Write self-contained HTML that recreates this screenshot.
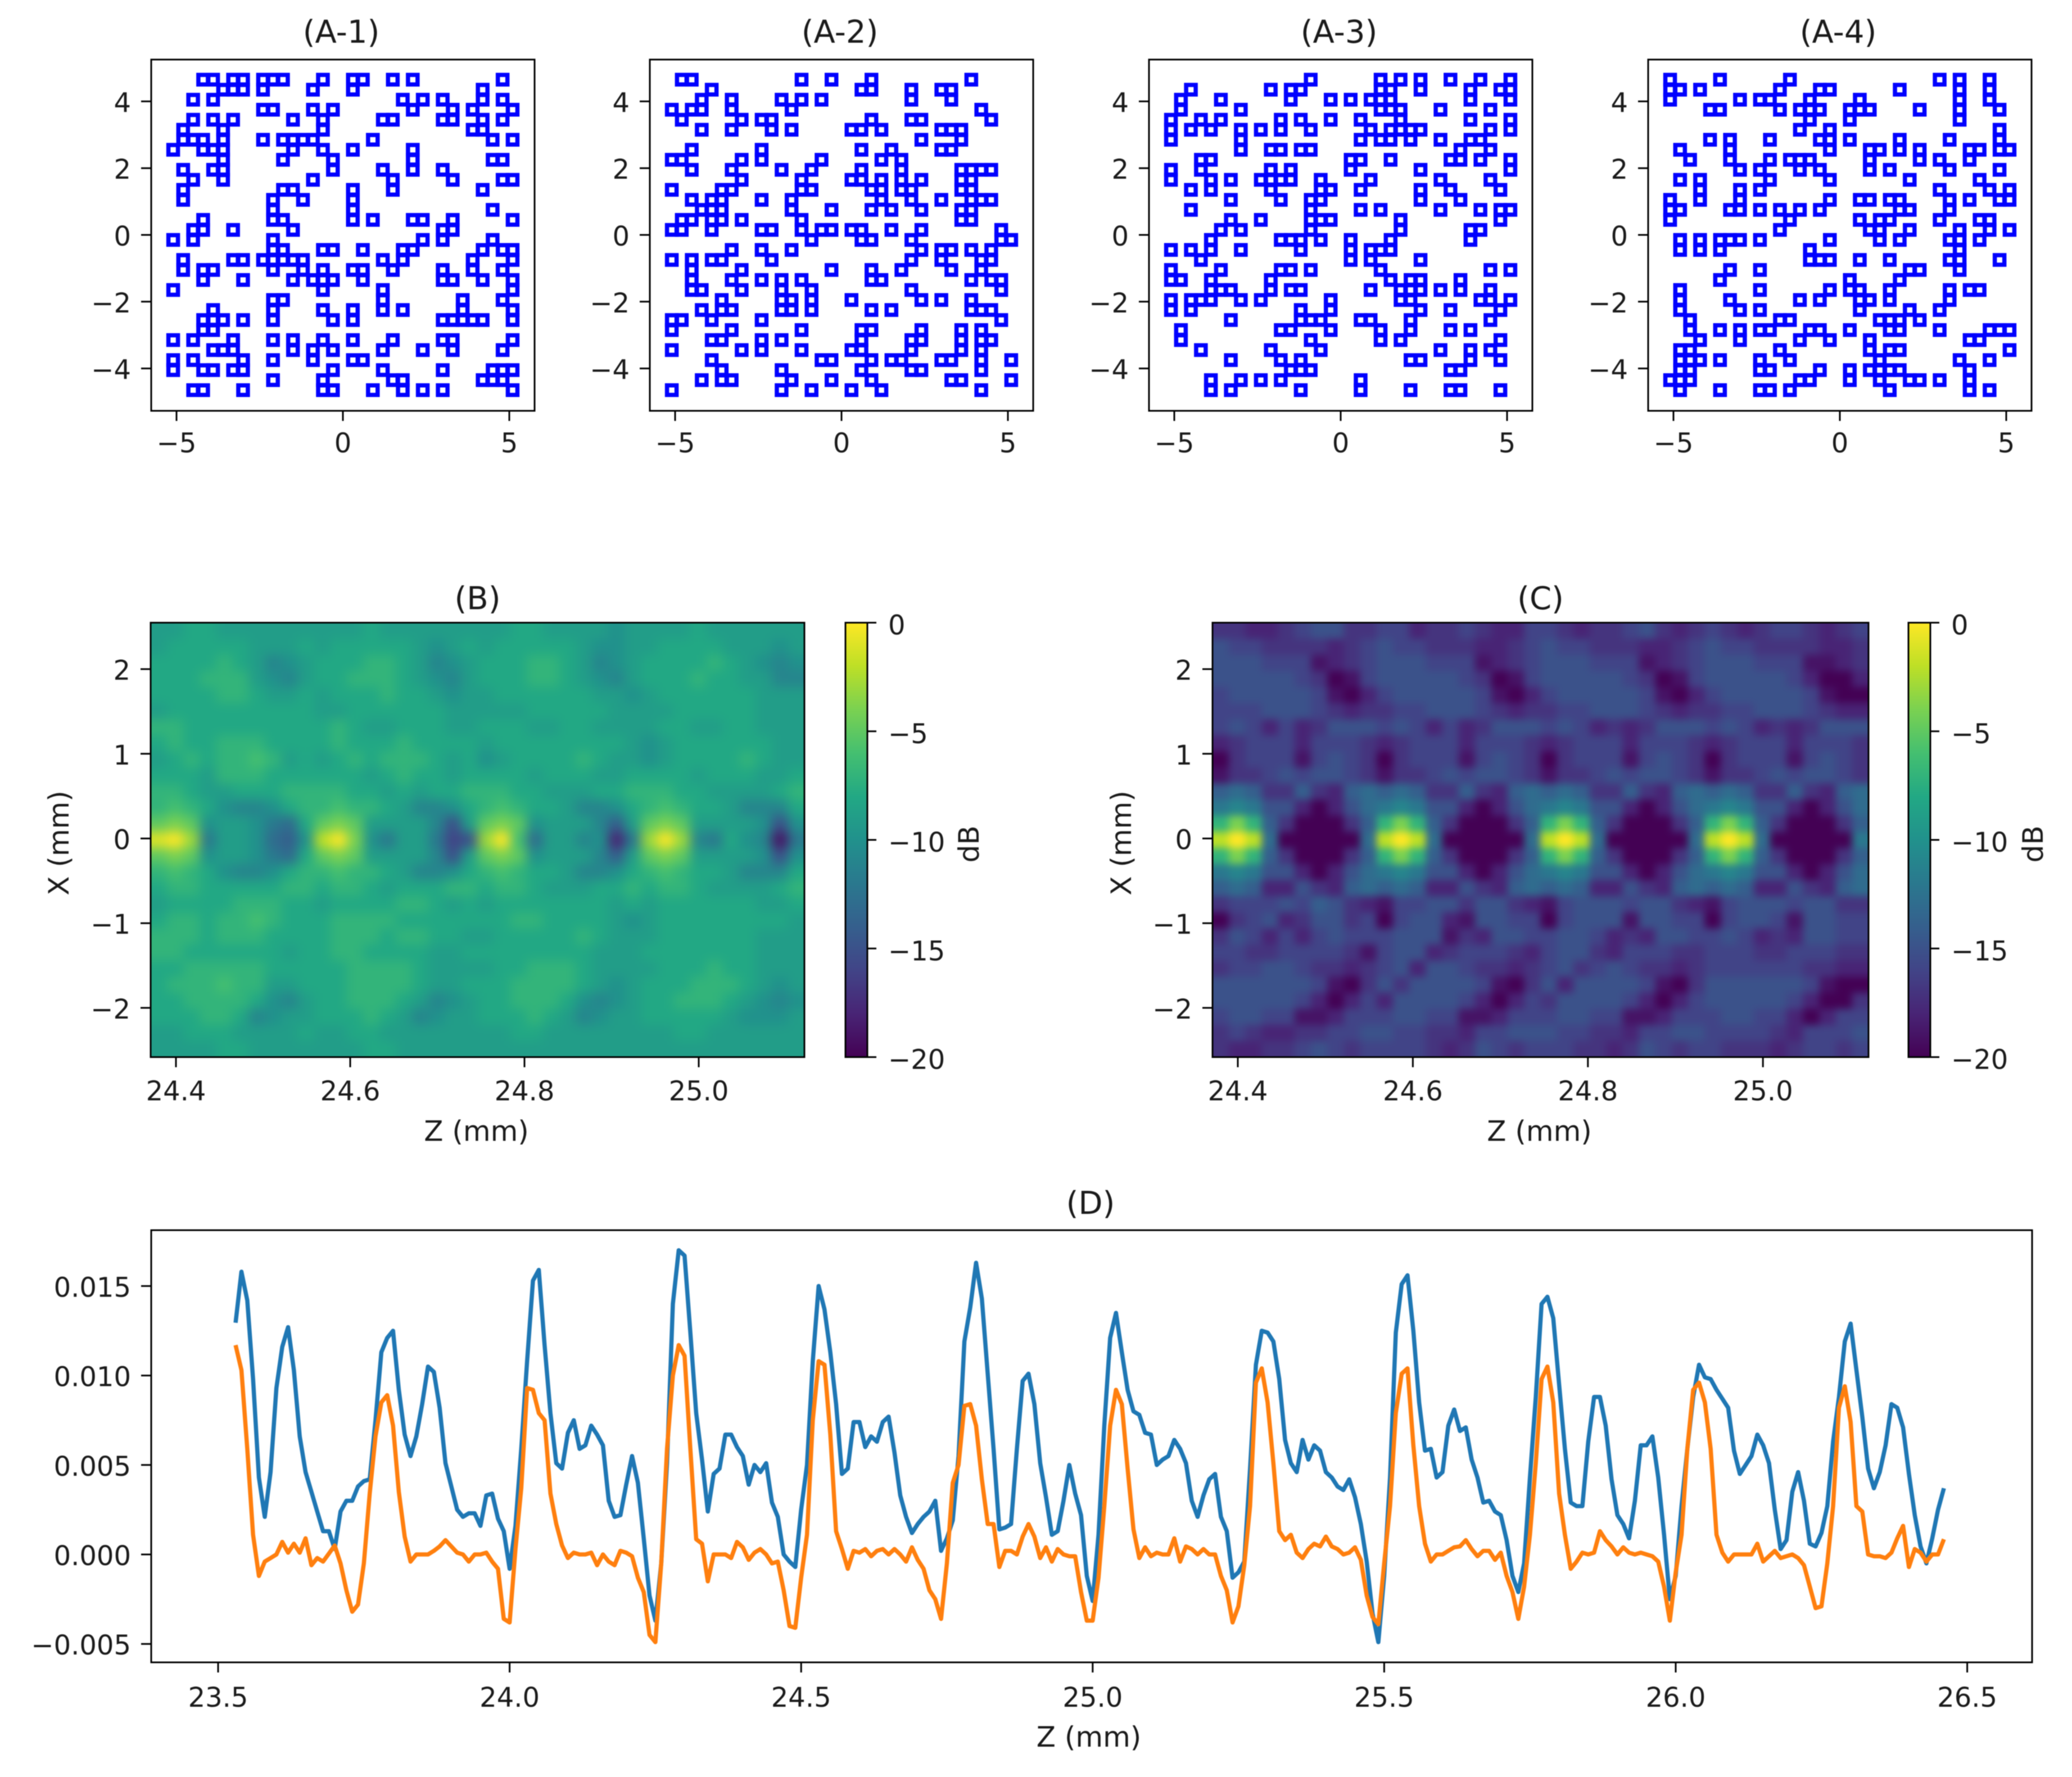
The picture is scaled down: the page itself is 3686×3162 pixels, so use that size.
<!DOCTYPE html>
<html lang="en">
<head>
<meta charset="utf-8">
<title>Array layouts and beam pattern chart</title>
<style>
html,body{margin:0;padding:0;background:#fff}
svg{display:block;filter:blur(0.9px)}
text{font-family:"DejaVu Sans","Liberation Sans",sans-serif;fill:#1a1a1a}
</style>
</head>
<body>
<svg id="figure" xmlns="http://www.w3.org/2000/svg" width="3686" height="3162" viewBox="0 0 3686 3162">
<defs>
<filter id="soft-b" x="-5%" y="-5%" width="110%" height="110%" color-interpolation-filters="sRGB"><feGaussianBlur stdDeviation="10"/></filter>
<filter id="soft-c" x="-5%" y="-5%" width="110%" height="110%" color-interpolation-filters="sRGB"><feGaussianBlur stdDeviation="7"/></filter>
<clipPath id="clip-b"><rect x="268" y="1108" width="1163" height="773"/></clipPath>
<clipPath id="clip-c"><rect x="2157" y="1108" width="1167" height="773"/></clipPath>
<linearGradient id="viridis-gradient" x1="0" y1="1" x2="0" y2="0">
<stop offset="0" stop-color="#440154"/><stop offset=".1" stop-color="#482475"/><stop offset=".2" stop-color="#414487"/><stop offset=".3" stop-color="#355f8d"/><stop offset=".4" stop-color="#2a788e"/><stop offset=".5" stop-color="#21918c"/><stop offset=".6" stop-color="#22a884"/><stop offset=".7" stop-color="#44bf70"/><stop offset=".8" stop-color="#7ad151"/><stop offset=".9" stop-color="#bddf26"/><stop offset="1" stop-color="#fde725"/>
</linearGradient>
</defs>
</svg>
<script>
// Element positions for the four array layouts: per row (top to bottom), the occupied column indices.
const arrayTitles = ['(A-1)','(A-2)','(A-3)','(A-4)'];
const arrayTicksX = [-5,0,5];
const arrayTicksY = [4,2,0,-2,-4];
const arrayTickLabelsX = ['\u22125','0','5'];
const arrayTickLabelsY = ['4','2','0','\u22122','\u22124'];
const arrayA1 = [
[3,4,6,7,9,10,11,15,18,19,22,24,33],[5,6,7,9,14,18,31],[2,4,23,25,27,31,33],[9,10,14,16,24,28,30,34],
[2,4,6,12,15,21,22,27,28,31,33],[1,5,15,30,31],[1,2,3,5,9,11,12,13,14,20,32,34],[0,3,4,5,12,15,18,24],
[5,11,16,24,32,33],[1,4,5,16,21,24,27],[2,5,14,22,28,33,34],[1,11,12,18,22,31],
[1,10,13,18],[10,18,32],[3,10,11,18,20,24,25,28,34],[2,3,6,12,27,28],
[0,2,10,25,27,32],[10,11,15,16,19,23,24,31,33,34],[1,6,7,9,10,11,12,13,21,23,30,34],[1,3,4,10,13,15,18,19,22,27,30,33],
[3,7,12,14,15,16,19,27,28,31,34],[0,15,21,34],[10,11,21,29,33],[4,10,15,18,21,23,29,34],
[3,4,5,7,10,16,18,27,28,29,30,31,34],[3,4],[0,2,6,10,12,15,18,22,27,28,34],[4,5,6,12,14,16,21,25,28,33],
[0,2,7,10,14,18,19],[0,3,4,6,7,16,21,27,32,33,34],[10,15,22,23,31,32,33],[2,3,7,15,16,20,23,25,27,34]];
const arrayA2 = [
[1,2,13,16,20,30],[4,19,20,24,27,28],[3,6,11,13,15,24,28],[0,2,3,6,12,31],
[1,7,9,10,20,24,25,32],[3,6,10,12,18,19,21,27,28,29],[25,29],[2,9,19,22,27,28],
[0,1,7,9,15,21,23],[2,6,11,14,19,23,29,30,31,32],[7,13,18,19,21,23,25,29,30],[0,5,6,13,14,20,21,23,24,29,30],
[2,4,5,9,12,21,24,27,30,31,32],[3,4,5,12,16,20,22,25,29,30],[1,2,4,5,7,13,29,30],[0,1,4,9,10,13,15,16,18,19,22,25,33],
[14,19,20,24,33,34],[6,9,12,25,27,28,30,32],[0,2,4,5,10,24,27,31,32],[2,7,16,20,23,28,31],
[2,6,9,11,13,20,21,30,32,33],[2,3,7,11,14,24,33],[5,11,12,14,18,25,27,30],[3,5,6,11,12,14,20,22,30,31,32],
[0,1,4,9,33],[0,6,13,19,20,25,29,31],[4,5,9,11,19,24,25,29,31,32],[0,7,9,13,18,19,24,29,31],
[4,15,16,20,22,23,27,28,31,34],[5,11,19,24,25,31],[3,5,6,12,16,20,28,29,34],[0,11,14,18,21,31]];
const arrayA3 = [
[14,21,23,25,28,31,34],[2,10,12,13,21,22,25,30,33,34],[1,5,12,16,18,20,21,22,30,34],[1,7,21,22,23,27,32],
[0,3,5,11,13,16,19,23,30,34],[0,2,4,7,9,11,14,20,22,23,24,25,32,34],[0,7,19,21,22,24,27,30,31],[7,10,11,13,14,29,32],
[3,4,18,19,22,28,29,31,34],[0,3,10,12,18,25,34],[0,4,6,9,10,11,12,15,20,27,32],[2,4,10,15,16,19,25,28,33],
[6,11,14,15,25,29],[2,14,19,21,27,31,33,34],[6,9,14,15,16,23,33],[5,7,14,23,30,31],
[4,11,12,13,15,18,22,30],[0,2,4,7,13,18,20,21,22],[3,18,20,25],[0,5,11,12,14,21,32,34],
[0,1,4,10,22,24,25,29],[4,5,6,10,12,13,20,23,24,25,27,29,32],[0,2,3,4,7,9,16,23,24,31,32,34],[0,2,13,16,25,28,33],
[6,13,14,15,19,20,24,32],[1,11,12,16,21,24,28,30],[1,14,21,23,33],[3,10,15,27,30,32],
[6,11,13,24,25,30,33],[12,13,14,28,29],[4,7,9,11,19],[4,6,13,19,24,28,29,33]];
const arrayA4 = [
[0,5,12,27,29,32],[0,1,3,11,15,16,23,29,32],[0,7,9,10,14,19,29,32],[4,5,11,13,14,15,18,19,20,25,29,33],
[14,18,29],[13,16,33],[4,6,10,15,16,18,23,28,33],[1,6,16,20,21,23,25,30,31,33,34],
[2,6,10,12,13,14,20,25,27,30],[7,9,13,15,20,22,28,33],[1,3,10,16,24,31],[3,7,9,27,32,34],
[0,3,7,16,19,20,22,23,28,30,33,34],[0,1,6,7,9,11,13,15,23,24,28],[0,12,19,21,22,27,31,32],[11,20,21,24,29,32,34],
[1,3,5,6,7,9,16,21,23,28,29,31],[1,3,5,14,29],[14,15,16,19,22,28,29,33],[6,9,24,25,29],
[5,18,23],[1,9,16,18,19,22,28,30,31],[1,6,13,15,19,20,22,28],[1,7,9,19,24,27],
[2,11,12,21,22,23,25],[2,5,7,9,10,14,15,18,22,23,27,32,33,34],[3,7,13,16,20,30,31],[1,2,11,20,22,23,34],
[1,2,3,5,9,12,21,29,32],[1,2,9,10,15,18,20,21,22,23,30],[0,1,2,13,14,18,21,24,25,27,30],[1,5,9,10,12,22,30,32]];

// Heatmap dB values; each row (top to bottom) has 40 cells (left to right).
const heatTicksZ = [24.4,24.6,24.8,25.0];
const heatTickLabelsZ = ['24.4','24.6','24.8','25.0'];
const heatTicksX = [2,1,0,-1,-2];
const heatTickLabelsX = ['2','1','0','\u22121','\u22122'];
const colorbarTicks = [0,-5,-10,-15,-20];
const colorbarLabels = ['0','\u22125','\u221210','\u221215','\u221220'];
const heatB = [
[-9,-9,-8,-8,-9,-9,-9,-9,-9,-9,-9,-9,-9,-8,-9,-9,-9,-9,-9,-9,-9,-9,-8,-8,-9,-9,-9,-9,-10,-9,-9,-9,-9,-8,-9,-9,-9,-9,-9,-9],
[-9,-8,-8,-8,-8,-8,-9,-9,-9,-8,-9,-8,-8,-8,-8,-8,-9,-10,-9,-8,-9,-8,-8,-8,-8,-8,-9,-10,-10,-9,-9,-8,-8,-8,-8,-9,-9,-9,-10,-9],
[-8,-8,-8,-8,-7,-8,-9,-11,-10,-9,-8,-8,-8,-7,-7,-8,-9,-11,-10,-9,-8,-8,-8,-7,-7,-8,-9,-11,-10,-9,-8,-8,-8,-8,-7,-8,-9,-10,-11,-10],
[-8,-8,-8,-7,-7,-7,-9,-10,-11,-9,-8,-8,-7,-7,-7,-8,-9,-10,-11,-9,-8,-8,-8,-7,-7,-8,-9,-10,-11,-9,-8,-8,-8,-7,-8,-8,-9,-9,-11,-11],
[-8,-8,-8,-8,-7,-7,-8,-9,-9,-8,-9,-8,-8,-8,-7,-8,-8,-9,-10,-9,-9,-8,-8,-8,-8,-8,-8,-9,-9,-10,-9,-8,-8,-8,-8,-8,-8,-9,-9,-9],
[-9,-8,-8,-8,-8,-8,-8,-8,-8,-8,-9,-9,-8,-8,-8,-8,-8,-8,-9,-9,-9,-9,-9,-8,-8,-8,-8,-8,-9,-9,-9,-9,-8,-8,-8,-8,-8,-9,-9,-9],
[-7,-7,-8,-8,-8,-8,-8,-8,-8,-8,-8,-7,-8,-9,-9,-8,-8,-8,-9,-9,-8,-8,-8,-9,-9,-8,-8,-9,-9,-9,-9,-8,-8,-9,-9,-8,-8,-9,-9,-9],
[-8,-7,-8,-8,-7,-7,-7,-8,-8,-8,-8,-7,-8,-8,-8,-7,-8,-8,-8,-8,-9,-8,-8,-8,-8,-8,-8,-8,-8,-9,-10,-9,-8,-8,-8,-8,-8,-8,-9,-9],
[-9,-8,-7,-8,-7,-7,-6,-7,-9,-8,-9,-8,-7,-8,-7,-7,-7,-8,-9,-8,-10,-9,-8,-8,-8,-8,-7,-8,-9,-9,-10,-9,-8,-8,-8,-8,-7,-8,-9,-9],
[-8,-8,-8,-9,-7,-7,-7,-8,-8,-8,-8,-8,-8,-9,-8,-7,-8,-8,-9,-8,-8,-8,-8,-9,-8,-8,-8,-9,-9,-8,-8,-8,-8,-9,-8,-8,-8,-9,-9,-8],
[-7,-7,-8,-9,-9,-8,-8,-8,-7,-7,-7,-7,-8,-8,-9,-8,-9,-8,-8,-7,-7,-7,-8,-8,-9,-9,-9,-8,-8,-7,-7,-7,-8,-8,-9,-9,-9,-9,-8,-7],
[-7,-6,-7,-8,-10,-11,-11,-10,-8,-7,-7,-6,-7,-7,-8,-9,-11,-11,-10,-8,-7,-6,-7,-8,-8,-9,-11,-11,-10,-8,-7,-6,-7,-8,-8,-9,-11,-11,-11,-8],
[-5,-4,-5,-10,-9,-9,-10,-12,-13,-8,-5,-4,-5,-9,-9,-9,-9,-11,-15,-9,-5,-4,-5,-10,-9,-9,-9,-11,-14,-9,-5,-4,-5,-9,-9,-9,-9,-10,-15,-10],
[-1,0,-3,-12,-9,-9,-10,-13,-14,-10,-2,0,-4,-10,-12,-9,-9,-12,-16,-15,-3,0,-6,-13,-9,-9,-11,-10,-18,-12,-3,0,-3,-11,-12,-8,-10,-11,-19,-12],
[-5,-4,-5,-10,-9,-9,-10,-12,-13,-8,-5,-4,-5,-9,-9,-9,-9,-11,-15,-9,-5,-4,-5,-10,-9,-9,-9,-11,-14,-9,-5,-4,-5,-9,-9,-9,-9,-10,-15,-10],
[-7,-6,-7,-8,-10,-11,-11,-10,-8,-7,-7,-6,-7,-7,-8,-9,-11,-11,-10,-8,-7,-6,-7,-8,-8,-9,-11,-11,-10,-8,-7,-6,-7,-8,-8,-9,-11,-11,-11,-8],
[-8,-7,-7,-8,-8,-8,-8,-8,-7,-7,-8,-7,-7,-8,-9,-8,-8,-8,-7,-7,-8,-7,-7,-8,-9,-9,-9,-8,-8,-7,-8,-7,-7,-8,-9,-9,-9,-9,-8,-7],
[-9,-8,-8,-8,-8,-7,-7,-7,-8,-8,-9,-8,-8,-8,-8,-7,-7,-8,-9,-8,-9,-8,-8,-8,-8,-8,-8,-8,-9,-8,-9,-8,-8,-8,-8,-8,-8,-9,-9,-8],
[-8,-7,-7,-8,-7,-7,-6,-7,-8,-8,-8,-7,-7,-7,-7,-8,-8,-8,-8,-8,-8,-8,-7,-7,-8,-8,-8,-8,-9,-10,-9,-8,-8,-8,-8,-8,-8,-8,-8,-9],
[-7,-7,-7,-8,-7,-7,-7,-8,-8,-8,-8,-7,-7,-7,-8,-7,-7,-8,-8,-9,-9,-8,-8,-8,-8,-8,-7,-8,-9,-9,-9,-8,-8,-8,-8,-8,-8,-9,-9,-9],
[-7,-7,-8,-8,-8,-8,-8,-8,-9,-8,-8,-7,-7,-8,-8,-8,-8,-9,-9,-8,-8,-8,-8,-8,-8,-8,-8,-9,-9,-9,-8,-8,-8,-8,-8,-8,-8,-9,-9,-9],
[-8,-8,-7,-7,-7,-7,-7,-8,-8,-8,-8,-8,-7,-7,-7,-7,-8,-9,-9,-9,-9,-8,-8,-7,-7,-7,-8,-9,-9,-9,-9,-8,-8,-8,-7,-8,-8,-9,-9,-9],
[-8,-7,-7,-7,-6,-7,-7,-9,-9,-8,-8,-8,-7,-7,-7,-7,-8,-9,-9,-8,-8,-8,-7,-7,-7,-7,-8,-9,-10,-9,-8,-8,-8,-7,-7,-7,-8,-9,-10,-9],
[-8,-8,-7,-7,-7,-7,-8,-10,-11,-9,-8,-8,-7,-7,-7,-8,-9,-11,-10,-9,-8,-8,-7,-7,-7,-8,-10,-11,-10,-9,-8,-8,-7,-7,-7,-8,-9,-10,-11,-10],
[-8,-8,-8,-7,-7,-8,-11,-10,-9,-9,-8,-8,-8,-7,-8,-9,-11,-10,-9,-9,-8,-8,-8,-7,-8,-9,-11,-10,-9,-9,-8,-8,-8,-8,-8,-9,-10,-10,-10,-9],
[-9,-9,-8,-8,-8,-9,-9,-9,-9,-8,-9,-9,-8,-8,-9,-9,-9,-9,-9,-9,-9,-9,-8,-8,-9,-9,-9,-9,-9,-9,-9,-9,-8,-8,-9,-9,-9,-9,-9,-9],
[-9,-9,-9,-9,-8,-8,-9,-9,-9,-9,-9,-9,-9,-8,-8,-9,-9,-9,-9,-9,-9,-9,-9,-9,-9,-9,-9,-9,-9,-9,-9,-9,-9,-9,-9,-9,-9,-9,-9,-9]];
const heatC = [
[-17,-17,-18,-18,-17,-16,-15,-15,-17,-17,-16,-16,-18,-17,-17,-16,-17,-18,-18,-16,-16,-17,-18,-17,-17,-16,-15,-17,-18,-17,-16,-17,-18,-17,-16,-16,-17,-18,-17,-16],
[-15,-16,-16,-17,-17,-17,-17,-18,-17,-16,-15,-16,-16,-17,-17,-17,-18,-18,-17,-16,-15,-16,-16,-17,-17,-17,-18,-18,-17,-16,-15,-16,-16,-17,-17,-17,-17,-18,-18,-17],
[-15,-15,-15,-16,-16,-16,-19,-18,-17,-16,-15,-15,-15,-16,-16,-16,-19,-18,-17,-16,-15,-15,-15,-16,-16,-16,-19,-18,-17,-16,-15,-15,-15,-16,-16,-16,-19,-19,-18,-17],
[-15,-15,-15,-15,-15,-16,-17,-20,-19,-16,-15,-15,-15,-15,-15,-16,-17,-20,-19,-16,-15,-15,-15,-15,-15,-16,-17,-20,-19,-16,-15,-15,-15,-15,-15,-16,-18,-20,-20,-18],
[-16,-15,-15,-15,-15,-15,-16,-19,-20,-18,-16,-15,-15,-15,-15,-15,-16,-19,-20,-18,-16,-15,-15,-15,-15,-15,-16,-19,-20,-18,-16,-15,-15,-15,-15,-15,-16,-19,-20,-20],
[-16,-16,-16,-15,-15,-15,-16,-17,-18,-17,-17,-16,-16,-15,-15,-15,-16,-17,-18,-17,-17,-16,-16,-15,-15,-15,-16,-17,-18,-17,-17,-16,-16,-15,-15,-15,-16,-17,-18,-18],
[-16,-15,-16,-18,-16,-18,-17,-15,-15,-15,-16,-15,-16,-18,-16,-18,-17,-15,-15,-15,-16,-15,-16,-18,-17,-18,-17,-15,-15,-15,-16,-15,-16,-18,-17,-18,-17,-15,-15,-15],
[-18,-17,-16,-16,-16,-18,-16,-16,-16,-17,-18,-17,-16,-16,-16,-18,-16,-16,-16,-17,-18,-17,-16,-16,-16,-18,-16,-16,-16,-17,-18,-17,-16,-16,-16,-18,-16,-16,-16,-17],
[-20,-17,-16,-16,-16,-19,-16,-15,-16,-17,-20,-17,-16,-16,-16,-19,-16,-15,-16,-17,-20,-17,-16,-16,-16,-19,-16,-15,-16,-17,-20,-17,-16,-16,-16,-19,-16,-15,-16,-17],
[-19,-17,-17,-16,-15,-16,-15,-15,-16,-17,-19,-17,-17,-16,-15,-16,-15,-15,-16,-17,-19,-17,-17,-16,-15,-16,-15,-15,-16,-17,-19,-17,-17,-16,-15,-16,-15,-15,-16,-17],
[-14,-13,-14,-17,-17,-14,-17,-18,-14,-13,-14,-13,-14,-17,-17,-14,-17,-18,-14,-13,-14,-13,-14,-17,-17,-14,-17,-18,-14,-13,-14,-13,-14,-17,-17,-14,-17,-18,-14,-13],
[-12,-11,-12,-15,-15,-18,-20,-18,-15,-13,-12,-11,-12,-15,-15,-18,-20,-18,-15,-13,-12,-11,-12,-15,-15,-18,-20,-18,-15,-13,-12,-11,-12,-15,-15,-18,-20,-18,-15,-13],
[-7,-4,-7,-14,-17,-20,-20,-20,-17,-14,-7,-4,-7,-14,-17,-20,-20,-20,-17,-14,-7,-4,-7,-14,-17,-20,-20,-20,-17,-14,-7,-4,-7,-14,-17,-20,-20,-20,-17,-14],
[-2,0,-2,-13,-20,-20,-20,-20,-20,-13,-2,0,-2,-13,-20,-20,-20,-20,-20,-13,-2,0,-2,-13,-20,-20,-20,-20,-20,-13,-2,0,-2,-13,-20,-20,-20,-20,-20,-12],
[-7,-4,-7,-14,-17,-20,-20,-20,-17,-14,-7,-4,-7,-14,-17,-20,-20,-20,-17,-14,-7,-4,-7,-14,-17,-20,-20,-20,-17,-14,-7,-4,-7,-14,-17,-20,-20,-20,-17,-14],
[-12,-11,-12,-15,-15,-18,-20,-18,-15,-13,-12,-11,-12,-15,-15,-18,-20,-18,-15,-13,-12,-11,-12,-15,-15,-18,-20,-18,-15,-13,-12,-11,-12,-15,-15,-18,-20,-18,-15,-13],
[-14,-13,-14,-18,-18,-15,-17,-18,-14,-13,-14,-13,-14,-18,-18,-15,-17,-18,-14,-13,-14,-13,-14,-18,-18,-15,-17,-18,-14,-13,-14,-13,-14,-18,-18,-15,-17,-18,-14,-13],
[-17,-16,-16,-16,-15,-16,-14,-15,-17,-18,-19,-16,-16,-15,-15,-17,-15,-15,-17,-18,-19,-16,-15,-15,-15,-16,-15,-15,-17,-18,-19,-16,-15,-15,-15,-16,-15,-15,-17,-17],
[-20,-17,-16,-15,-18,-17,-15,-15,-17,-16,-20,-16,-15,-15,-18,-19,-15,-15,-16,-16,-20,-16,-15,-15,-15,-19,-15,-15,-16,-16,-20,-16,-15,-15,-16,-19,-15,-15,-16,-16],
[-17,-15,-16,-18,-16,-18,-16,-15,-16,-16,-16,-15,-15,-15,-19,-17,-18,-15,-15,-16,-16,-15,-15,-16,-18,-17,-18,-15,-15,-16,-16,-15,-16,-18,-17,-18,-15,-15,-16,-16],
[-16,-16,-17,-17,-16,-16,-16,-16,-17,-19,-16,-15,-15,-18,-17,-16,-16,-16,-17,-18,-16,-15,-15,-17,-18,-16,-16,-16,-17,-17,-16,-16,-16,-17,-17,-16,-16,-16,-17,-17],
[-17,-16,-16,-15,-15,-16,-17,-17,-18,-17,-16,-15,-18,-15,-15,-16,-17,-17,-18,-17,-16,-15,-17,-16,-15,-16,-17,-17,-18,-17,-16,-16,-16,-16,-16,-16,-17,-17,-18,-18],
[-15,-15,-15,-15,-15,-15,-16,-19,-20,-17,-15,-17,-15,-15,-15,-15,-16,-19,-20,-17,-15,-18,-15,-15,-15,-15,-16,-19,-20,-17,-15,-15,-15,-15,-15,-15,-16,-19,-20,-20],
[-15,-15,-15,-15,-15,-16,-18,-20,-18,-16,-18,-15,-15,-15,-15,-16,-18,-20,-18,-16,-17,-15,-15,-15,-15,-16,-18,-20,-18,-16,-15,-15,-15,-15,-15,-16,-18,-20,-20,-17],
[-16,-15,-15,-16,-16,-19,-19,-18,-16,-16,-16,-15,-15,-16,-16,-19,-19,-18,-16,-16,-16,-15,-15,-16,-16,-19,-19,-18,-16,-16,-16,-15,-15,-16,-16,-18,-20,-18,-16,-16],
[-17,-16,-17,-18,-18,-17,-17,-16,-16,-15,-15,-16,-16,-17,-17,-18,-16,-16,-15,-15,-15,-16,-16,-17,-17,-18,-16,-16,-15,-15,-16,-16,-16,-16,-17,-18,-16,-16,-16,-15],
[-17,-18,-18,-17,-17,-16,-15,-16,-17,-16,-16,-16,-16,-17,-18,-17,-15,-16,-17,-16,-16,-16,-17,-17,-18,-17,-15,-16,-17,-16,-16,-17,-17,-17,-18,-17,-16,-16,-17,-16]];

// Line chart (D): values in units of 0.001, sampled every 0.01 mm starting at z = 23.53.
const lineStartZ = 23.53;
const lineStepZ = 0.01;
const lineTicksZ = [23.5,24.0,24.5,25.0,25.5,26.0,26.5];
const lineTickLabelsZ = ['23.5','24.0','24.5','25.0','25.5','26.0','26.5'];
const lineTicksV = [0.015,0.010,0.005,0,-0.005];
const lineTickLabelsV = ['0.015','0.010','0.005','0.000','\u22120.005'];
const blueSeries = [
12.95,15.8,14.2,9.8,4.3,2.1,4.6,9.3,11.6,12.7,10.3,6.6,4.6,3.5,2.4,1.3,1.3,0.3,2.4,3.0,
3.0,3.8,4.1,4.2,7.5,11.3,12.1,12.5,9.2,6.7,5.5,6.6,8.4,10.5,10.2,8.2,5.1,3.8,2.5,2.1,
2.3,2.3,1.6,3.3,3.4,2.0,1.3,-0.8,1.6,5.9,10.8,15.3,15.9,11.7,7.9,5.1,4.8,6.8,7.5,5.9,
6.1,7.2,6.7,6.1,3.0,2.1,2.2,3.9,5.5,4.0,0.9,-2.3,-3.7,-0.5,5.1,14.0,17.0,16.7,12.4,7.9,
5.3,2.4,4.5,4.8,6.7,6.7,6.0,5.5,3.9,5.0,4.6,5.1,2.9,2.1,0,-0.4,-0.7,2.5,5.0,10.8,
15.0,13.7,11.3,8.4,4.5,4.8,7.4,7.4,6.0,6.6,6.3,7.4,7.7,5.7,3.3,2.1,1.2,1.7,2.1,2.4,
3.0,0.2,0.9,1.9,5.5,11.9,13.8,16.3,14.3,10.1,5.9,1.4,1.5,1.7,5.9,9.7,10.1,8.4,5.1,3.2,
1.1,1.3,3.0,5.0,3.4,2.2,-1.2,-2.6,1.1,7.2,12.1,13.5,11.3,9.2,8.0,7.8,6.8,6.7,5.0,5.3,
5.5,6.4,5.9,5.1,3.0,2.1,3.3,4.2,4.5,2.1,1.3,-1.3,-1.0,-0.4,4.8,10.6,12.5,12.4,11.9,9.8,
6.4,5.1,4.6,6.4,5.3,6.1,5.8,4.6,4.3,3.8,3.6,4.2,3.2,1.7,-0.4,-3.3,-4.9,-1.2,4.3,12.4,
15.1,15.6,12.5,8.5,5.8,5.9,4.3,4.6,7.2,8.1,6.9,7.1,5.3,4.3,2.9,3.0,2.4,2.2,0.8,-1.2,
-2.1,-0.5,4.3,8.8,14.0,14.4,13.2,9.5,5.9,2.9,2.7,2.7,6.3,8.8,8.8,7.2,4.2,2.2,1.7,0.9,
3.0,6.1,6.1,6.6,4.3,1.1,-2.5,-1.2,2.7,5.9,8.8,10.6,9.9,9.8,9.2,8.7,8.2,5.8,4.5,5.0,
5.5,6.7,6.1,5.1,2.5,0.3,0.8,3.5,4.6,3.0,0.6,0.45,1.2,2.7,6.3,8.8,11.9,12.9,10.3,7.7,
4.8,3.7,4.6,6.1,8.4,8.2,7.1,4.5,2.2,0.45,-0.5,0.9,2.5,3.7];
const orangeSeries = [
11.7,10.3,5.9,1.1,-1.2,-0.4,-0.2,0,0.7,0.1,0.6,0.1,0.9,-0.6,-0.2,-0.4,0.05,0.5,-0.5,-2.0,
-3.2,-2.8,-0.5,3.4,6.6,8.5,8.9,7.2,3.5,1.0,-0.4,0,0,0,0.2,0.45,0.8,0.45,0.1,0,
-0.4,0,0,0.1,-0.4,-0.8,-3.6,-3.8,0.3,3.7,9.3,9.2,7.9,7.5,3.4,1.7,0.5,-0.2,0.1,0,
0,0.1,-0.6,0,-0.4,-0.6,0.2,0.1,-0.1,-1.3,-2.1,-4.5,-4.9,-0.5,5.9,10.0,11.7,11.1,5.9,0.85,
0.6,-1.5,0,0,0,-0.2,0.7,0.4,-0.3,0.1,0.3,0,-0.5,-0.4,-2.0,-4.0,-4.1,-1.3,1.1,7.5,
10.8,10.6,6.7,1.3,0.3,-0.8,0.2,0.1,0.3,-0.1,0.2,0.3,0,0.3,0,-0.4,0.4,-0.3,-0.8,-2.0,
-2.5,-3.6,-0.5,4.0,5.0,8.3,8.4,7.2,4.2,1.7,1.7,-0.7,0.2,0.2,0,1.0,1.7,1.0,-0.2,0.4,
-0.4,0.3,0,-0.1,-0.1,-2.1,-3.7,-3.7,-1.3,2.7,7.2,9.2,8.4,4.8,1.4,-0.2,0.4,-0.1,0.1,0,
0,0.9,-0.4,0.45,0.3,0,0.3,0,0,-1.2,-2.0,-3.8,-2.9,-0.6,2.7,9.6,10.4,8.5,5.1,1.3,
0.8,1.1,0.1,-0.2,0.3,0.6,0.45,1.0,0.45,0.3,0,0.1,0.4,-0.3,-2.3,-3.5,-3.9,-0.5,2.7,7.9,
10.1,10.4,6.1,2.7,0.6,-0.4,0,0,0.2,0.4,0.45,0.8,0.3,-0.1,0.2,0.2,-0.3,0.1,-1.2,-2.1,
-3.6,-1.8,1.1,5.1,9.8,10.5,8.5,3.4,1.1,-0.8,-0.4,0.1,0,0.1,1.3,0.8,0.45,0,0.4,0.1,
0,0.1,0,-0.1,-0.4,-1.8,-3.7,-1.0,1.1,5.9,9.2,9.6,8.5,5.9,1.1,0.1,-0.4,0,0,0,
0,0.6,-0.4,-0.1,0.2,-0.2,-0.1,0,-0.2,-0.6,-1.8,-3.0,-2.9,-0.5,2.7,8.2,9.4,7.4,2.7,2.4,
0,-0.1,-0.1,-0.2,0.1,0.9,1.6,-0.7,0.3,0.1,-0.4,0,0,0.85];

const svg = document.getElementById('figure');
const NS = 'http://www.w3.org/2000/svg';
const viridisStops = [[68,1,84],[72,36,117],[65,68,135],[53,95,141],[42,120,142],[33,145,140],[34,168,132],[68,191,112],[122,209,81],[189,223,38],[253,231,37]];
function viridis(db){
  const t = Math.max(0, Math.min(1, (db + 20) / 20)) * 10;
  const i = Math.min(9, Math.floor(t));
  const f = t - i;
  const a = viridisStops[i], b = viridisStops[i + 1];
  return 'rgb(' + [0,1,2].map(function(k){ return Math.round(a[k] + (b[k] - a[k]) * f); }).join(',') + ')';
}
function make(tag, attrs, parent){
  const el = document.createElementNS(NS, tag);
  for (const k in attrs) el.setAttribute(k, attrs[k]);
  (parent || svg).appendChild(el);
  return el;
}
function label(parent, str, x, y, size, anchor, name, rotate){
  const el = make('text', {x: x, y: y, 'font-size': size, 'text-anchor': anchor}, parent);
  
  
  if (rotate) el.setAttribute('transform', 'rotate(-90 ' + x + ' ' + y + ')');
  el.textContent = str;
  return el;
}
function tick(parent, x1, y1, x2, y2, name){
  const el = make('line', {x1: x1, y1: y1, x2: x2, y2: y2, stroke: '#000', 'stroke-width': 3}, parent);
  
  
  return el;
}
function frame(parent, x, y, w, h, name){
  const el = make('rect', {x: x, y: y, width: w, height: h, fill: 'none', stroke: '#000', 'stroke-width': 3}, parent);
  
  
  return el;
}
const TICK_FONT = 48, TITLE_FONT = 56;

// Panels A-1 to A-4
const arrayLayouts = [arrayA1, arrayA2, arrayA3, arrayA4];
const arrayCenters = [610, 1497, 2385, 3273];
arrayLayouts.forEach(function(layout, p){
  const cx = arrayCenters[p];
  const xA = function(v){ return cx + 59.2 * v; };
  const yA = function(v){ return 418 - 59.4 * v; };
  const g = make('g', {});
  
  
  label(g, arrayTitles[p], cx - 3, 76, TITLE_FONT, 'middle', 'array-title-' + (p + 1));
  layout.forEach(function(cols, r){
    cols.forEach(function(c){
      const el = make('rect', {x: xA(-5.1 + 0.3 * c) - 8.5, y: yA(4.65 - 0.3 * r) - 8.5, width: 17, height: 17, fill: 'none', stroke: '#0000ff', 'stroke-width': 7.5}, g);
      
      
    });
  });
  frame(g, cx - 341, 106, 682, 625, 'array-frame');
  arrayTicksX.forEach(function(v, i){
    tick(g, xA(v), 731, xA(v), 749, 'x-tick');
    label(g, arrayTickLabelsX[i], xA(v), 805, TICK_FONT, 'middle', 'x-tick-label');
  });
  arrayTicksY.forEach(function(v, i){
    tick(g, cx - 341, yA(v), cx - 359, yA(v), 'y-tick');
    label(g, arrayTickLabelsY[i], cx - 377, yA(v) + 19, TICK_FONT, 'end', 'y-tick-label');
  });
});

// Heatmaps B and C
const heatPanels = [
  {data: heatB, title: '(B)', key: 'b', left: 268, width: 1163, x244: 313, pxPerMm: 1550, barLeft: 1504, labelX: 1580, dbX: 1741, ylabelX: 122},
  {data: heatC, title: '(C)', key: 'c', left: 2157, width: 1167, x244: 2202, pxPerMm: 1557, barLeft: 3395, labelX: 3471, dbX: 3634, ylabelX: 2012}
];
const HEAT_TOP = 1108, HEAT_H = 773;
heatPanels.forEach(function(p){
  const g = make('g', {});
  
  
  const clip = make('g', {'clip-path': 'url(#clip-' + p.key + ')'}, g);
  const cells = make('g', {filter: 'url(#soft-' + p.key + ')'}, clip);
  
  
  const nRows = p.data.length, nCols = p.data[0].length;
  const cw = p.width / nCols, ch = HEAT_H / nRows;
  p.data.forEach(function(row, r){
    row.forEach(function(db, c){
      const x0 = p.left + c * cw - (c === 0 ? 40 : 0);
      const x1 = p.left + (c + 1) * cw + (c === nCols - 1 ? 40 : 0.5);
      const y0 = HEAT_TOP + r * ch - (r === 0 ? 40 : 0);
      const y1 = HEAT_TOP + (r + 1) * ch + (r === nRows - 1 ? 40 : 0.5);
      const el = make('rect', {x: x0, y: y0, width: x1 - x0, height: y1 - y0, fill: viridis(db)}, cells);
      
      
    });
  });
  frame(g, p.left, HEAT_TOP, p.width, HEAT_H, 'heatmap-frame');
  label(g, p.title, p.left + p.width / 2, 1084, TITLE_FONT, 'middle', 'heatmap-title');
  const xH = function(z){ return p.x244 + (z - 24.4) * p.pxPerMm; };
  const yH = function(v){ return 1492 - 150.7 * v; };
  heatTicksZ.forEach(function(z, i){
    tick(g, xH(z), 1881, xH(z), 1899, 'z-tick');
    label(g, heatTickLabelsZ[i], xH(z), 1958, TICK_FONT, 'middle', 'z-tick-label');
  });
  heatTicksX.forEach(function(v, i){
    tick(g, p.left, yH(v), p.left - 18, yH(v), 'x-tick');
    label(g, heatTickLabelsX[i], p.left - 36, yH(v) + 19, TICK_FONT, 'end', 'x-tick-label');
  });
  label(g, 'Z (mm)', p.left + p.width / 2 - 2, 2030, 50, 'middle', 'z-axis-title');
  label(g, 'X (mm)', p.ylabelX, 1500, 50, 'middle', 'x-axis-title', true);
  const bar = make('rect', {x: p.barLeft, y: HEAT_TOP, width: 39, height: HEAT_H, fill: 'url(#viridis-gradient)', stroke: '#000', 'stroke-width': 3}, g);
  
  
  colorbarTicks.forEach(function(v, i){
    const y = 1881 - (v + 20) * 38.65;
    tick(g, p.barLeft + 39, y, p.barLeft + 55, y, 'colorbar-tick');
    label(g, colorbarLabels[i], p.labelX, y + 21, TICK_FONT, 'start', 'colorbar-tick-label');
  });
  label(g, 'dB', p.dbX, 1502, 50, 'middle', 'colorbar-title', true);
});

// Line chart D
const gD = make('g', {});


const xD = function(z){ return 388 + 1037.2 * (z - 23.5); };
const yD = function(v){ return 2766 - 31840 * v; };
function linePoints(series){
  return series.map(function(v, i){ return xD(lineStartZ + lineStepZ * i).toFixed(1) + ',' + yD(v / 1000).toFixed(1); }).join(' ');
}
const blueLine = make('polyline', {points: linePoints(blueSeries), fill: 'none', stroke: '#1f77b4', 'stroke-width': 7.5, 'stroke-linejoin': 'round'}, gD);


const orangeLine = make('polyline', {points: linePoints(orangeSeries), fill: 'none', stroke: '#ff7f0e', 'stroke-width': 7.5, 'stroke-linejoin': 'round'}, gD);


frame(gD, 269, 2189, 3346, 769, 'line-frame');
label(gD, '(D)', 1940, 2160, TITLE_FONT, 'middle', 'line-title');
lineTicksZ.forEach(function(z, i){
  tick(gD, xD(z), 2958, xD(z), 2976, 'z-tick');
  label(gD, lineTickLabelsZ[i], xD(z), 3037, TICK_FONT, 'middle', 'z-tick-label');
});
lineTicksV.forEach(function(v, i){
  tick(gD, 269, yD(v), 251, yD(v), 'value-tick');
  label(gD, lineTickLabelsV[i], 233, yD(v) + 19, TICK_FONT, 'end', 'value-tick-label');
});
label(gD, 'Z (mm)', 1937, 3108, 50, 'middle', 'z-axis-title');
</script>
</body>
</html>
